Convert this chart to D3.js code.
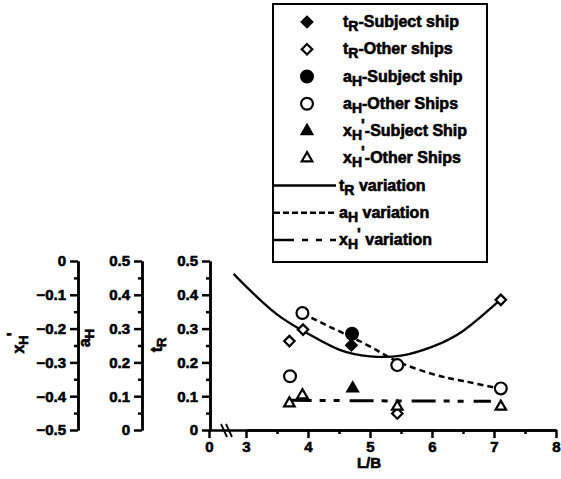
<!DOCTYPE html>
<html>
<head>
<meta charset="utf-8">
<script src="https://cdn.jsdelivr.net/npm/d3@7"></script>
<style>
  body { margin: 0; background: white; }
  text { font-family: "Liberation Sans", Arial, sans-serif; font-weight: bold; }
</style>
</head>
<body>
<div id="chart"></div>
<script>
// points
const tRSubjectLB = [4.70];
const tRSubject = [0.251];
const tROtherLB = [3.70, 3.92, 5.44, 7.11];
const tROther = [0.263, 0.297, 0.049, 0.385];
const aHSubjectLB = [4.71];
const aHSubject = [0.285];
const aHOtherLB = [3.71, 3.91, 5.44, 7.11];
const aHOther = [0.159, 0.346, 0.192, 0.123];
const xHSubjectLB = [4.72];
const xHSubject = [-0.377];
const xHOtherLB = [3.70, 3.91, 5.44, 7.11];
const xHOther = [-0.421, -0.397, -0.431, -0.431];

// fitted curves
const tRCurveLB = [2.8, 3.0, 3.5, 4.0, 4.5, 5.0, 5.5, 6.0, 6.5, 7.1];
const tRCurve = [0.462, 0.425, 0.342, 0.285, 0.238, 0.218, 0.220, 0.246, 0.293, 0.385];
const aHCurveLB = [3.91, 4.3, 4.7, 5.1, 5.44, 6.0, 6.5, 7.11];
const aHCurve = [0.345, 0.31, 0.275, 0.237, 0.203, 0.166, 0.145, 0.122];
const xHCurveLB = [3.72, 5.4, 6.95];
const xHCurve = [-0.412, -0.414, -0.415];

// axis ticks
const xTicks = [3, 4, 5, 6, 7, 8];
const xMinor = [3.5, 4.5, 5.5, 6.5, 7.5];
const posTicks = [0, 0.1, 0.2, 0.3, 0.4, 0.5];
const posMinor = [0.05, 0.15, 0.25, 0.35, 0.45];
const negTicks = [-0.5, -0.4, -0.3, -0.2, -0.1, 0];
const negMinor = [-0.45, -0.35, -0.25, -0.15, -0.05];

const width = 561, height = 479;
const svg = d3.select("#chart").append("svg")
    .attr("width", width)
    .attr("height", height);

const x = d3.scaleLinear().domain([3, 8]).range([246, 556]);
const yT = d3.scaleLinear().domain([0, 0.5]).range([430, 261]);
const yA = d3.scaleLinear().domain([0, 0.5]).range([430, 261]);
const yX = d3.scaleLinear().domain([-0.5, 0]).range([430, 261]);

const fmt = d => d === 0 ? "0" : d3.format(".1f")(d);

// heavy scanned look: bold plus a thin outline
function heavy(sel) {
    sel.attr("fill", "black").attr("stroke", "black").attr("stroke-width", 0.6)
        .style("font-family", "Liberation Sans, Arial, sans-serif").style("font-weight", "bold");
}

function styleAxis(g) {
    g.select(".domain").attr("stroke", "black").attr("stroke-width", 2.5);
    g.selectAll(".tick line").attr("stroke", "black").attr("stroke-width", 2.5);
    g.selectAll(".tick text").call(heavy).style("font-size", "15px");
}

// vertical axes
function vAxis(xPos, scale, major, minor) {
    const g = svg.append("g").attr("transform", "translate(" + xPos + ",0)");
    g.append("g").call(d3.axisLeft(scale).tickValues(minor).tickSize(4).tickFormat("").tickSizeOuter(0)).call(styleAxis);
    g.append("g").call(d3.axisLeft(scale).tickValues(major).tickSize(8).tickPadding(4).tickFormat(fmt).tickSizeOuter(0)).call(styleAxis);
}
vAxis(78, yX, negTicks, negMinor);
vAxis(142, yA, posTicks, posMinor);
vAxis(210, yT, posTicks, posMinor);

// horizontal axis (broken between 0 and 3)
const xAxisG = svg.append("g").attr("transform", "translate(0,430)");
xAxisG.append("g").call(d3.axisBottom(x).tickValues(xMinor).tickSize(4).tickFormat("").tickSizeOuter(0)).call(styleAxis);
xAxisG.append("g").call(d3.axisBottom(x).tickValues(xTicks).tickSize(8).tickPadding(3).tickFormat(d3.format("d")).tickSizeOuter(0)).call(styleAxis);
const xStub = d3.scaleLinear().domain([0, 1]).range([209, 246]);
xAxisG.append("g").call(d3.axisBottom(xStub).tickValues([0]).tickSize(8).tickPadding(3).tickFormat(d3.format("d")).tickSizeOuter(0)).call(styleAxis);

// break marks
[224, 229].forEach(bx => {
    svg.append("line").attr("x1", bx - 3).attr("y1", 424).attr("x2", bx + 3).attr("y2", 437)
        .attr("stroke", "black").attr("stroke-width", 1.8);
});

// axis titles
function subTitle(g, base, sub, extra) {
    const t = g.append("text").call(heavy).style("font-size", "16px");
    t.append("tspan").text(base);
    t.append("tspan").attr("dy", 4).style("font-size", "13px").text(sub);
    if (extra) t.append("tspan").attr("dy", -9).attr("dx", -1).text(extra);
    return t;
}
subTitle(svg.append("g").attr("transform", "translate(24,343) rotate(-90)"), "x", "H", "'").attr("text-anchor", "middle");
subTitle(svg.append("g").attr("transform", "translate(90,338) rotate(-90)"), "a", "H").attr("text-anchor", "middle");
subTitle(svg.append("g").attr("transform", "translate(162,345) rotate(-90)"), "t", "R").attr("text-anchor", "middle");

svg.append("text").attr("x", 369).attr("y", 468).attr("text-anchor", "middle")
    .call(heavy).style("font-size", "15px").text("L/B");

// curves
const zip = (a, b) => a.map((v, i) => [v, b[i]]);
svg.append("path")
    .attr("d", d3.line().x(d => x(d[0])).y(d => yT(d[1])).curve(d3.curveNatural)(zip(tRCurveLB, tRCurve)))
    .attr("fill", "none").attr("stroke", "black").attr("stroke-width", 2.3);
svg.append("path")
    .attr("d", d3.line().x(d => x(d[0])).y(d => yA(d[1])).curve(d3.curveNatural)(zip(aHCurveLB, aHCurve)))
    .attr("fill", "none").attr("stroke", "black").attr("stroke-width", 2.5).attr("stroke-dasharray", "6,4");
svg.append("path")
    .attr("d", d3.line().x(d => x(d[0])).y(d => yX(d[1])).curve(d3.curveLinear)(zip(xHCurveLB, xHCurve)))
    .attr("fill", "none").attr("stroke", "black").attr("stroke-width", 3)
    .attr("stroke-dasharray", "24,8,6,8,6,10").attr("stroke-dashoffset", 3);

// markers
const shapes = {
    diamond: d3.symbol().type(d3.symbolDiamond2 || d3.symbolDiamond).size(70),
    circle: d3.symbol().type(d3.symbolCircle).size(110),
    triangle: d3.symbol().type(d3.symbolTriangle).size(48)
};
function drawPoints(lbs, vals, scale, shape, filled) {
    svg.append("g").selectAll("path")
        .data(zip(lbs, vals))
        .enter().append("path")
        .attr("transform", d => "translate(" + x(d[0]) + "," + scale(d[1]) + ")")
        .attr("d", shapes[shape])
        .attr("fill", filled ? "black" : "white")
        .attr("stroke", "black")
        .attr("stroke-width", 2.2);
}
drawPoints(aHOtherLB, aHOther, yA, "circle", false);
drawPoints(tROtherLB, tROther, yT, "diamond", false);
drawPoints(xHOtherLB, xHOther, yX, "triangle", false);
drawPoints(aHSubjectLB, aHSubject, yA, "circle", true);
drawPoints(tRSubjectLB, tRSubject, yT, "diamond", true);
drawPoints(xHSubjectLB, xHSubject, yX, "triangle", true);

// legend
const legend = svg.append("g");
legend.append("rect").attr("x", 273).attr("y", 4).attr("width", 214).attr("height", 258)
    .attr("fill", "white").attr("stroke", "black").attr("stroke-width", 2);

const legendItems = [
    { base: "t", sub: "R", prime: "", rest: "-Subject ship", shape: "diamond", filled: true },
    { base: "t", sub: "R", prime: "", rest: "-Other ships", shape: "diamond", filled: false },
    { base: "a", sub: "H", prime: "", rest: "-Subject ship", shape: "circle", filled: true },
    { base: "a", sub: "H", prime: "", rest: "-Other Ships", shape: "circle", filled: false },
    { base: "x", sub: "H", prime: "'", rest: "-Subject Ship", shape: "triangle", filled: true },
    { base: "x", sub: "H", prime: "'", rest: "-Other Ships", shape: "triangle", filled: false },
    { base: "t", sub: "R", prime: "", rest: " variation", dash: null },
    { base: "a", sub: "H", prime: "", rest: " variation", dash: "6,3" },
    { base: "x", sub: "H", prime: "'", rest: " variation", dash: "20,8,6,8,6,8" }
];
const rowY = d3.scaleLinear().domain([0, 8]).range([22, 240]);

legendItems.forEach((it, i) => {
    const cy = rowY(i);
    let tx = 343;
    if (it.shape) {
        legend.append("path")
            .attr("transform", "translate(307," + cy + ")")
            .attr("d", shapes[it.shape])
            .attr("fill", it.filled ? "black" : "white")
            .attr("stroke", "black").attr("stroke-width", 2.2);
    } else {
        tx = 339;
        legend.append("line").attr("x1", 274).attr("x2", 336).attr("y1", cy).attr("y2", cy)
            .attr("stroke", "black").attr("stroke-width", 2.5)
            .attr("stroke-dasharray", it.dash);
    }
    const t = legend.append("text").attr("x", tx).attr("y", cy + 5)
        .call(heavy).style("font-size", "16px");
    t.append("tspan").text(it.base);
    t.append("tspan").attr("dy", 4).style("font-size", "14px").text(it.sub);
    if (it.prime) t.append("tspan").attr("dy", -9).attr("dx", -1).text(it.prime);
    t.append("tspan").attr("dy", it.prime ? 5 : -4).text(it.rest);
});
</script>
</body>
</html>
